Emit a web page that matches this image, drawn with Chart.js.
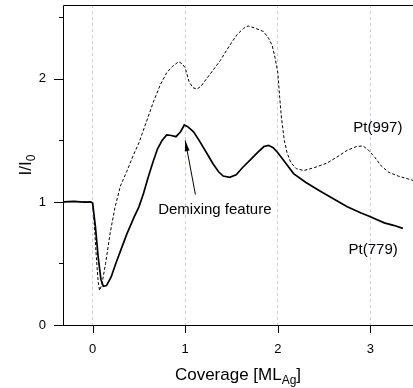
<!DOCTYPE html>
<html>
<head>
<meta charset="utf-8">
<script src="https://cdn.jsdelivr.net/npm/chart.js@4"></script>
<style>
  body { margin: 0; background: #fff; }
  #wrap { width: 413px; height: 388px; position: relative; }
</style>
</head>
<body>
<div id="wrap"><canvas id="ratioChart"></canvas></div>
<script>
// Pt(779) curve, solid
const x779 = [-0.32, -0.2, -0.1, -0.02, 0.0, 0.03, 0.06, 0.09, 0.115, 0.15, 0.2, 0.25, 0.3, 0.37, 0.45, 0.5,
    0.55, 0.6, 0.65, 0.7, 0.75, 0.8, 0.85, 0.9, 0.95, 0.99, 1.03, 1.09, 1.15, 1.23, 1.3, 1.36, 1.41, 1.48,
    1.55, 1.62, 1.7, 1.78, 1.85, 1.9, 1.95, 2.0, 2.08, 2.17, 2.3, 2.45, 2.6, 2.75, 2.9, 3.0, 3.15, 3.25, 3.35];
const y779 = [1.0, 1.005, 0.998, 1.0, 0.99, 0.80, 0.55, 0.37, 0.315, 0.32, 0.39, 0.50, 0.60, 0.74, 0.88, 0.96,
    1.07, 1.20, 1.32, 1.43, 1.50, 1.545, 1.54, 1.53, 1.57, 1.625, 1.61, 1.57, 1.50, 1.40, 1.31, 1.245, 1.21, 1.20,
    1.22, 1.28, 1.34, 1.40, 1.45, 1.46, 1.44, 1.40, 1.32, 1.23, 1.16, 1.09, 1.025, 0.96, 0.91, 0.88, 0.83, 0.81, 0.785];

// Pt(997) curve, dashed
const x997 = [-0.32, -0.2, -0.1, 0.0, 0.02, 0.04, 0.06, 0.075, 0.1, 0.14, 0.19, 0.24, 0.3, 0.37, 0.44, 0.5,
    0.58, 0.66, 0.73, 0.8, 0.86, 0.93, 0.97, 1.0, 1.04, 1.08, 1.125, 1.17, 1.22, 1.3, 1.38, 1.47, 1.56, 1.63,
    1.68, 1.76, 1.845, 1.9, 1.94, 1.97, 2.0, 2.02, 2.04, 2.07, 2.1, 2.14, 2.2, 2.28, 2.4, 2.53, 2.65, 2.75,
    2.85, 2.92, 2.98, 3.05, 3.12, 3.2, 3.3, 3.46];
const y997 = [1.0, 1.003, 1.0, 1.0, 0.80, 0.55, 0.35, 0.28, 0.33, 0.50, 0.75, 0.95, 1.13, 1.25, 1.38, 1.48,
    1.65, 1.82, 1.95, 2.05, 2.10, 2.14, 2.12, 2.09, 1.98, 1.93, 1.915, 1.94, 1.99, 2.07, 2.15, 2.26, 2.36, 2.41,
    2.43, 2.41, 2.385, 2.33, 2.27, 2.17, 2.05, 1.85, 1.68, 1.50, 1.40, 1.32, 1.27, 1.255, 1.28, 1.315, 1.37, 1.42,
    1.45, 1.455, 1.42, 1.36, 1.29, 1.24, 1.21, 1.175];

const xTicks = [0, 1, 2, 3];
const yTicks = [0, 0.5, 1, 1.5, 2, 2.5];

const FONT = '"Liberation Sans", Arial, sans-serif';

const toPoints = (xs, ys) => xs.map((x, i) => ({ x: x, y: ys[i] }));

// text labels inside the plot, in data units
const notes = [
    { text: 'Pt(997)', x: 3.08, y: 1.60 },
    { text: 'Pt(779)', x: 3.03, y: 0.61 },
    { text: 'Demixing feature', x: 1.32, y: 0.935 }
];
const arrowFrom = { x: 1.11, y: 1.06 };
const arrowTo = { x: 1.0, y: 1.50 };

const framePlugin = {
    id: 'frame',
    afterDraw(chart) {
        const ctx = chart.ctx;
        const a = chart.chartArea;
        const xs = chart.scales.x;
        const ys = chart.scales.y;
        ctx.save();
        ctx.strokeStyle = '#000';
        ctx.lineWidth = 1;

        // box
        ctx.beginPath();
        ctx.moveTo(a.left + 0.5, a.bottom + 0.5);
        ctx.lineTo(a.left + 0.5, a.top + 0.5);
        ctx.lineTo(a.right, a.top + 0.5);
        ctx.moveTo(a.left - 9, a.bottom + 0.5);
        ctx.lineTo(a.right, a.bottom + 0.5);
        ctx.stroke();

        // ticks
        ctx.beginPath();
        yTicks.forEach(v => {
            const py = Math.round(ys.getPixelForValue(v)) + 0.5;
            const len = Number.isInteger(v) ? 9 : 4;
            ctx.moveTo(a.left - len, py);
            ctx.lineTo(a.left, py);
        });
        xTicks.forEach(v => {
            const px = Math.round(xs.getPixelForValue(v)) + 0.5;
            ctx.moveTo(px, a.bottom);
            ctx.lineTo(px, a.bottom + 8);
        });
        ctx.stroke();

        // axis titles
        ctx.fillStyle = '#000';
        ctx.textBaseline = 'alphabetic';
        const main = '17px ' + FONT;
        const sub = '12px ' + FONT;

        ctx.font = main;
        const w1 = ctx.measureText('Coverage [ML').width;
        const w3 = ctx.measureText(']').width;
        ctx.font = sub;
        const w2 = ctx.measureText('Ag').width;
        let tx = (a.left + a.right) / 2 - (w1 + w2 + w3) / 2;
        const ty = 380;
        ctx.font = main;
        ctx.textAlign = 'left';
        ctx.fillText('Coverage [ML', tx, ty);
        ctx.font = sub;
        ctx.fillText('Ag', tx + w1, ty + 4);
        ctx.font = main;
        ctx.fillText(']', tx + w1 + w2, ty);

        ctx.save();
        ctx.translate(31, (a.top + a.bottom) / 2);
        ctx.rotate(-Math.PI / 2);
        ctx.font = main;
        const v1 = ctx.measureText('I/I').width;
        ctx.font = sub;
        const v2 = ctx.measureText('0').width;
        ctx.font = main;
        ctx.fillText('I/I', -(v1 + v2) / 2, 0);
        ctx.font = sub;
        ctx.fillText('0', -(v1 + v2) / 2 + v1, 4);
        ctx.restore();

        // notes
        ctx.font = '15px ' + FONT;
        ctx.textAlign = 'center';
        ctx.textBaseline = 'middle';
        notes.forEach(n => {
            ctx.fillText(n.text, xs.getPixelForValue(n.x), ys.getPixelForValue(n.y));
        });

        // arrow
        const x0 = xs.getPixelForValue(arrowFrom.x), y0 = ys.getPixelForValue(arrowFrom.y);
        const x1 = xs.getPixelForValue(arrowTo.x), y1 = ys.getPixelForValue(arrowTo.y);
        const ang = Math.atan2(y1 - y0, x1 - x0);
        ctx.beginPath();
        ctx.moveTo(x0, y0);
        ctx.lineTo(x1, y1);
        ctx.stroke();
        ctx.beginPath();
        ctx.moveTo(x1, y1);
        ctx.lineTo(x1 - 11 * Math.cos(ang - 0.22), y1 - 11 * Math.sin(ang - 0.22));
        ctx.lineTo(x1 - 11 * Math.cos(ang + 0.22), y1 - 11 * Math.sin(ang + 0.22));
        ctx.closePath();
        ctx.fill();
        ctx.restore();
    }
};

function fixSize(size) {
    return axis => {
        if (axis.isHorizontal()) axis.height = size; else axis.width = size;
        axis.paddingTop = 0;
        axis.paddingBottom = 0;
        axis.paddingLeft = 0;
        axis.paddingRight = 0;
    };
}

const ratioChart = new Chart(document.getElementById('ratioChart'), {
    type: 'line',
    data: {
        datasets: [
            {
                label: 'Pt(997)',
                data: toPoints(x997, y997),
                borderColor: '#000',
                borderWidth: 1,
                borderDash: [3, 2],
                pointRadius: 0,
                fill: false
            },
            {
                label: 'Pt(779)',
                data: toPoints(x779, y779),
                borderColor: '#000',
                borderWidth: 1.7,
                pointRadius: 0,
                fill: false
            }
        ]
    },
    options: {
        responsive: true,
        maintainAspectRatio: false,
        animation: false,
        layout: { padding: { top: 5, right: 0, left: 0, bottom: 0 } },
        plugins: {
            legend: { display: false },
            tooltip: { enabled: false }
        },
        scales: {
            x: {
                type: 'linear',
                min: -0.32,
                max: 3.46,
                afterBuildTicks(axis) { axis.ticks = xTicks.map(v => ({ value: v })); },
                afterFit: fixSize(63),
                ticks: {
                    padding: 17,
                    color: '#000',
                    font: { size: 13, family: FONT }
                },
                grid: {
                    color: '#c8c8f0',
                    drawTicks: false
                },
                border: { display: false, dash: [3, 3] }
            },
            y: {
                min: 0,
                max: 2.6,
                afterBuildTicks(axis) { axis.ticks = yTicks.map(v => ({ value: v })); },
                afterFit: fixSize(63),
                ticks: {
                    padding: 17,
                    color: '#000',
                    font: { size: 13, family: FONT },
                    callback: v => Number.isInteger(v) ? String(v) : ''
                },
                grid: {
                    drawOnChartArea: false,
                    drawTicks: false
                },
                border: { display: false }
            }
        }
    },
    plugins: [framePlugin]
});
</script>
</body>
</html>
